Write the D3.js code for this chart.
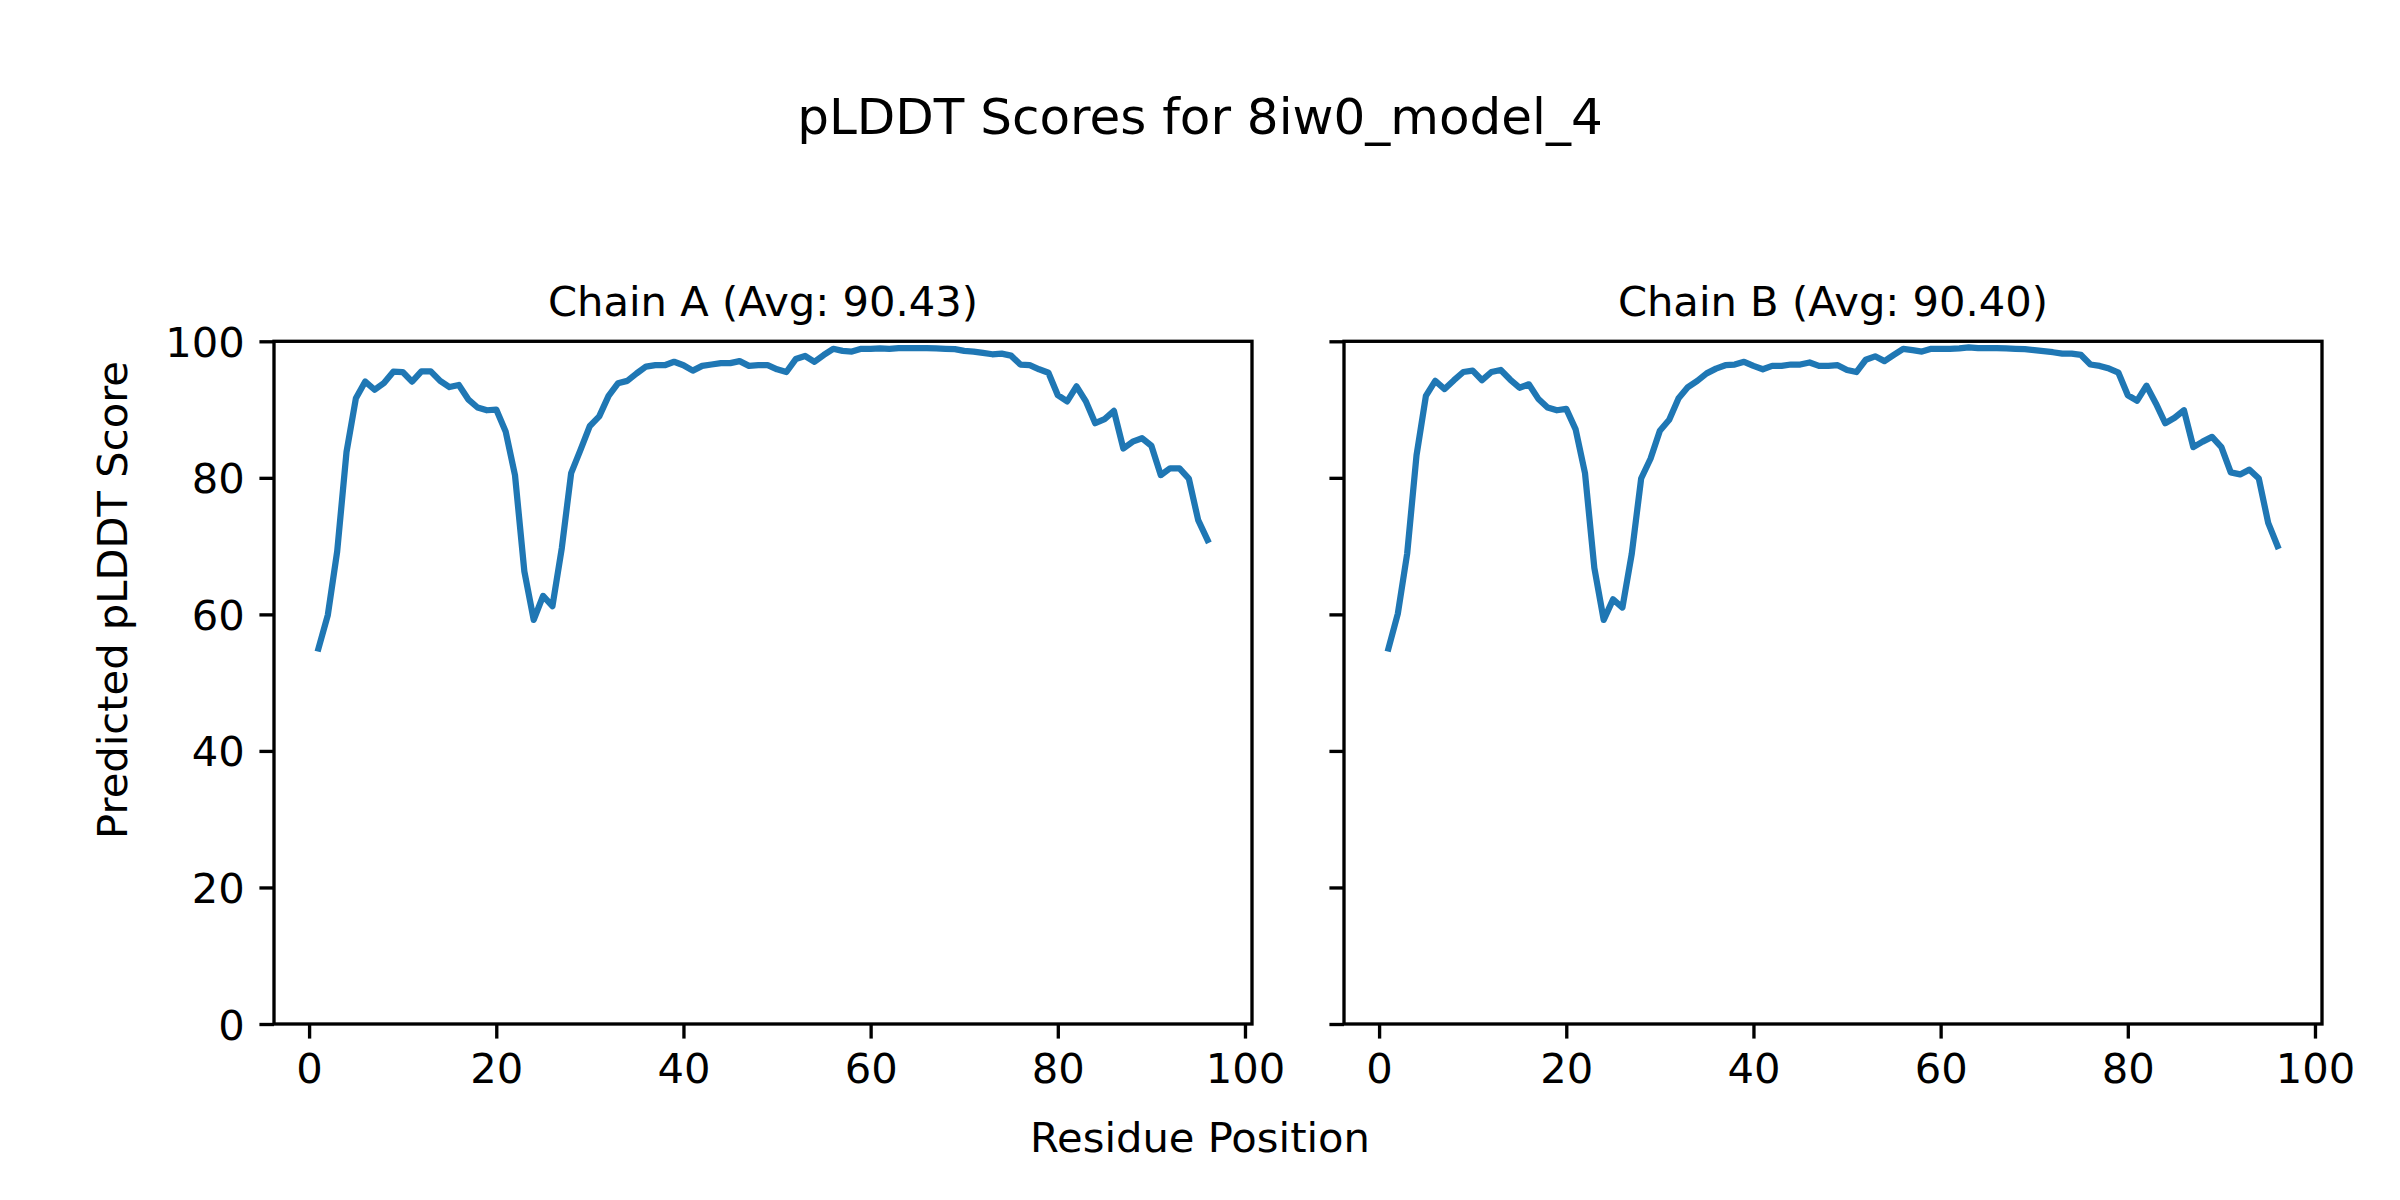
<!DOCTYPE html>
<html>
<head>
<meta charset="utf-8">
<script src="https://cdn.jsdelivr.net/npm/d3@7"></script>
<style>
  html, body { margin: 0; padding: 0; background: #ffffff; }
  svg { display: block; }
  text { font-family: "DejaVu Sans", sans-serif; fill: #000; }
</style>
</head>
<body>
<svg id="chart" width="2400" height="1200"></svg>
<script>
// ---- data ----
const residues = d3.range(1, 97);
const chainA = [
  55.0, 59.9, 69.2, 83.8, 91.65, 94.1, 92.9, 93.9, 95.55, 95.5,
  94.1, 95.6, 95.6, 94.2, 93.3, 93.6, 91.5, 90.3, 89.9, 90.0,
  86.8, 80.4, 66.3, 59.2, 62.7, 61.2, 69.7, 80.7, 84.1, 87.6,
  89.0, 92.0, 93.85, 94.2, 95.3, 96.3, 96.5, 96.5, 97.0, 96.5,
  95.7, 96.4, 96.6, 96.8, 96.8, 97.1, 96.4, 96.5, 96.5, 95.9,
  95.5, 97.4, 97.85, 97.0, 98.0, 98.9, 98.6, 98.5, 98.9, 98.9,
  98.95, 98.9, 99.0, 99.0, 99.0, 99.0, 98.95, 98.9, 98.85, 98.6,
  98.5, 98.3, 98.1, 98.2, 97.9, 96.6, 96.5, 95.9, 95.4, 92.1,
  91.2, 93.4, 91.2, 88.0, 88.6, 89.8, 84.3, 85.3, 85.8, 84.7,
  80.4, 81.4, 81.4, 79.9, 73.8, 70.9
];
const chainB = [
  55.0, 60.1, 68.9, 83.3, 92.0, 94.2, 93.0, 94.3, 95.5, 95.7,
  94.3, 95.5, 95.8, 94.4, 93.2, 93.7, 91.6, 90.3, 89.9, 90.1,
  87.1, 80.7, 66.8, 59.2, 62.2, 61.0, 68.9, 79.9, 82.8, 86.9,
  88.5, 91.65, 93.3, 94.2, 95.3, 96.0, 96.5, 96.6, 97.0, 96.4,
  95.9, 96.4, 96.4, 96.6, 96.6, 96.9, 96.4, 96.4, 96.5, 95.8,
  95.5, 97.3, 97.8, 97.1, 98.0, 98.9, 98.7, 98.5, 98.9, 98.9,
  98.9, 98.95, 99.1, 99.0, 99.0, 99.0, 98.95, 98.9, 98.85, 98.7,
  98.55, 98.4, 98.2, 98.2, 98.0, 96.6, 96.4, 96.0, 95.4, 92.1,
  91.3, 93.5, 90.9, 88.0, 88.8, 89.9, 84.5, 85.3, 86.0, 84.5,
  80.8, 80.5, 81.2, 79.9, 73.4, 70.0
];
const chainTitles = ["Chain A (Avg: 90.43)", "Chain B (Avg: 90.40)"];
const xTicks = [0, 20, 40, 60, 80, 100];
const yTicks = [0, 20, 40, 60, 80, 100];
const suptitle = "pLDDT Scores for 8iw0_model_4";
const xLabel = "Residue Position";
const yLabel = "Predicted pLDDT Score";

// ---- layout ----
const svg = d3.select("#chart");
const PT = 300 / 72;                 // px per point at 300 dpi
const fs = 10 * PT;                  // 10pt
const tickLen = 3.5 * PT;
const spineW = 0.8 * PT;
const axTop = 341.3, axBottom = 1024;
const panels = [
  { left: 274, right: 1252, data: chainA, title: chainTitles[0], labels: true },
  { left: 1344, right: 2322, data: chainB, title: chainTitles[1], labels: false }
];
const xDomain = [1 - 0.05 * 95, 96 + 0.05 * 95];

svg.append("rect").attr("width", 2400).attr("height", 1200).attr("fill", "#fff");

panels.forEach(p => {
  const x = d3.scaleLinear().domain(xDomain).range([p.left, p.right]);
  const y = d3.scaleLinear().domain([0, 100]).range([axBottom, axTop]);
  const g = svg.append("g");

  // line
  const line = d3.line().x((d, i) => x(residues[i])).y(d => y(d));
  g.append("path")
    .datum(p.data)
    .attr("d", line)
    .attr("fill", "none")
    .attr("stroke", "#1f77b4")
    .attr("stroke-width", 1.5 * PT)
    .attr("stroke-linejoin", "round")
    .attr("stroke-linecap", "square");

  // x axis
  const xa = g.append("g").attr("transform", `translate(0,${axBottom})`)
    .call(d3.axisBottom(x).tickValues(xTicks).tickSize(tickLen).tickPadding(15.1).tickFormat(d3.format("d")));
  xa.select(".domain").remove();
  xa.selectAll(".tick line").attr("stroke", "#000").attr("stroke-width", spineW);
  xa.selectAll(".tick text").attr("font-size", fs).attr("font-family", "DejaVu Sans").attr("fill", "#000");

  // y axis
  const ya = g.append("g").attr("transform", `translate(${p.left},0)`)
    .call(d3.axisLeft(y).tickValues(yTicks).tickSize(tickLen).tickPadding(tickLen).tickFormat(p.labels ? d3.format("d") : () => ""));
  ya.select(".domain").remove();
  ya.selectAll(".tick line").attr("stroke", "#000").attr("stroke-width", spineW);
  ya.selectAll(".tick text").attr("font-size", fs).attr("font-family", "DejaVu Sans").attr("fill", "#000").attr("dy", "0.36em");

  // spines
  g.append("rect")
    .attr("x", p.left).attr("y", axTop)
    .attr("width", p.right - p.left).attr("height", axBottom - axTop)
    .attr("fill", "none").attr("stroke", "#000").attr("stroke-width", spineW)
    .attr("stroke-linejoin", "miter");

  // panel title
  g.append("text")
    .attr("x", (p.left + p.right) / 2).attr("y", 316)
    .attr("text-anchor", "middle").attr("font-size", fs)
    .text(p.title);
});

// figure titles/labels
svg.append("text").attr("x", 1200).attr("y", 134).attr("text-anchor", "middle")
  .attr("font-size", 12 * PT).text(suptitle);
svg.append("text").attr("x", 1200).attr("y", 1152).attr("text-anchor", "middle")
  .attr("font-size", fs).text(xLabel);
svg.append("text").attr("transform", "translate(127,600) rotate(-90)").attr("text-anchor", "middle")
  .attr("font-size", fs).text(yLabel);
</script>
</body>
</html>
